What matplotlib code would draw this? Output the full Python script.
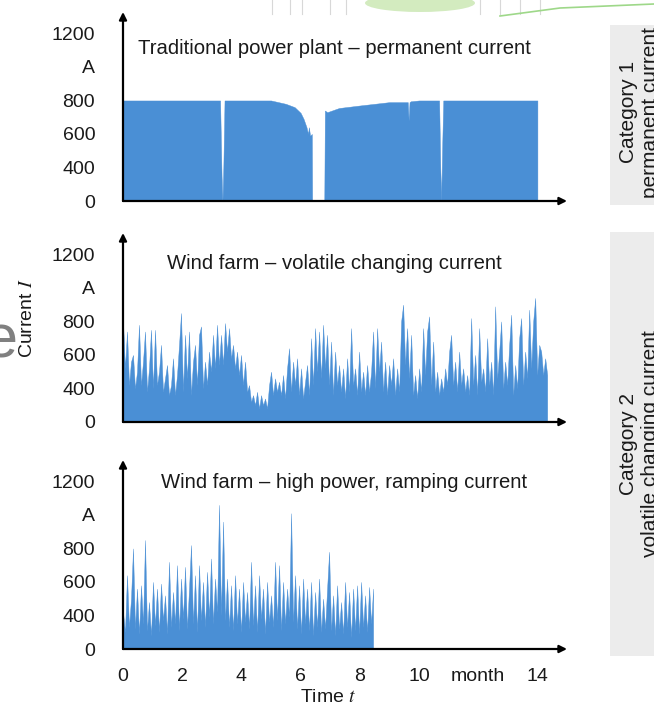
#Current time series of three plant types (category panels on the right)
import matplotlib.pyplot as plt
from matplotlib.patches import Rectangle, Ellipse
import numpy as np

plt.rcParams['font.family'] = ['Liberation Sans', 'DejaVu Sans']
plt.rcParams['mathtext.fontset'] = 'stix'

W, H = 654, 708
BLUE = '#4a8fd5'
TXT = '#1a1a1a'

# y axis of the original is not linear: labels are evenly spaced
Y_TICKS = [0, 400, 600, 800, 1000, 1200]
Y_LABELS = ['0', '400', '600', '800', 'A', '1200']
X_TICKS = [0, 2, 4, 6, 8, 10, 12, 14]
X_LABELS = ['0', '2', '4', '6', '8', '10', 'month', '14']

TITLES = ['Traditional power plant \u2013 permanent current',
          'Wind farm \u2013 volatile changing current',
          'Wind farm \u2013 high power, ramping current']

# traditional power plant (month, A)
t_top = [0, 3.28, 3.33, 3.36, 3.39, 3.43, 4.5, 5.0, 5.5, 5.8, 6.0, 6.1, 6.2,
         6.25, 6.28, 6.32, 6.38, 6.39, 6.80, 6.82, 6.9, 7.3, 8.0, 9.0, 9.62,
         9.65, 9.68, 9.72, 10.0, 10.68, 10.72, 10.75, 10.78, 10.82, 11.5, 13.0, 14.0]
i_top = [800, 800, 300, 0, 400, 800, 800, 800, 780, 760, 726, 690, 640,
         600, 640, 590, 600, 0, 0, 740, 730, 755, 770, 790, 790,
         680, 790, 795, 800, 800, 400, 0, 500, 800, 800, 800, 800]

# wind farm, volatile (A), one sample every ~2 days
i_mid = [800, 520, 740, 420, 560, 600, 400, 500, 780, 420, 560, 740, 360, 520,
         750, 400, 750, 420, 500, 660, 360, 460, 540, 320, 420, 580, 320, 480,
         660, 850, 360, 720, 460, 740, 320, 560, 660, 420, 720, 770, 400, 560,
         420, 620, 500, 720, 520, 780, 540, 720, 540, 790, 620, 760, 580, 660,
         520, 620, 480, 600, 420, 560, 360, 420, 240, 320, 200, 360, 160, 320,
         200, 280, 160, 420, 500, 320, 460, 360, 440, 320, 480, 280, 520, 640,
         360, 560, 420, 580, 320, 520, 280, 440, 540, 320, 700, 420, 760, 500,
         740, 460, 780, 520, 720, 420, 680, 320, 620, 420, 540, 360, 520, 280,
         580, 360, 760, 420, 520, 320, 620, 360, 500, 320, 540, 360, 500, 740,
         400, 760, 500, 680, 360, 560, 320, 540, 420, 580, 320, 520, 360, 800,
         900, 540, 760, 460, 720, 320, 480, 280, 520, 360, 760, 480, 740, 830,
         420, 680, 360, 500, 320, 460, 360, 520, 420, 620, 720, 420, 560, 360,
         620, 420, 520, 360, 480, 320, 820, 420, 600, 320, 760, 440, 520, 360,
         700, 420, 560, 320, 890, 460, 620, 800, 400, 560, 420, 660, 840, 320,
         540, 400, 700, 820, 420, 620, 460, 870, 520, 800, 940, 480, 660, 620,
         480, 580, 480]

# wind farm, high power (A), same sampling, stops after 8.5 months
i_bot = [420, 200, 640, 260, 500, 800, 240, 560, 180, 580, 300, 850, 220, 480,
         160, 600, 280, 560, 200, 590, 340, 520, 180, 720, 260, 540, 300, 700,
         220, 620, 360, 690, 240, 560, 820, 300, 640, 200, 700, 340, 600, 260,
         660, 380, 740, 300, 620, 420, 1060, 400, 960, 340, 620, 260, 580, 220,
         640, 300, 560, 200, 600, 320, 540, 240, 720, 280, 580, 200, 640, 360,
         560, 180, 600, 320, 520, 260, 720, 340, 700, 220, 600, 300, 560, 380,
         1010, 320, 640, 240, 580, 180, 620, 300, 560, 220, 600, 160, 540, 260,
         620, 200, 500, 240, 560, 780, 220, 520, 160, 580, 240, 480, 180, 600,
         260, 540, 140, 560, 220, 580, 180, 600, 260, 520, 200, 570, 300, 560]

MONTH_STEP = 0.0676
t_mid = np.arange(len(i_mid)) * MONTH_STEP
t_bot = np.arange(len(i_bot)) * MONTH_STEP

POS = [0, 1, 2, 3, 4, 5, 6]
AMP = [0, 400, 600, 800, 1000, 1200, 1400]


def fwd(v):
    return np.interp(v, AMP, POS)


def inv(p):
    return np.interp(p, POS, AMP)


Y_TOP = float(inv(5.64))

fig = plt.figure(figsize=(W / 100, H / 100), dpi=100)
fig.patch.set_facecolor('white')


def fx(px):
    return px / W


def fy(py):
    return 1 - py / H


# grey category boxes on the right
fig.add_artist(Rectangle((fx(610), fy(205)), fx(60), 180 / H, transform=fig.transFigure,
                         facecolor='#ececec', edgecolor='none'))
fig.add_artist(Rectangle((fx(610), fy(656)), fx(60), 424 / H, transform=fig.transFigure,
                         facecolor='#ececec', edgecolor='none'))
fig.text(fx(640), fy(112), 'Category 1\npermanent current', rotation=90, ha='center',
         va='center', multialignment='center', fontsize=15, color=TXT, linespacing=1.2)
fig.text(fx(640), fy(444), 'Category 2\nvolatile changing current', rotation=90,
         ha='center', va='center', multialignment='center', fontsize=15, color=TXT,
         linespacing=1.2)

# leftovers of the neighbouring figure
fig.add_artist(Ellipse((fx(420), fy(3)), fx(110), 18 / H, transform=fig.transFigure,
                       facecolor='#c8e6b0', edgecolor='none', alpha=0.8))
for px in [272, 290, 302, 330, 346, 480, 500, 520, 540]:
    fig.add_artist(plt.Line2D([fx(px), fx(px)], [fy(14), fy(0)], transform=fig.transFigure,
                              color='#d8d8d8', lw=0.8))
fig.add_artist(plt.Line2D([fx(500), fx(560), fx(654)], [fy(16), fy(8), fy(4)],
                          transform=fig.transFigure, color='#9ed889', lw=1.2))
fig.text(fx(17), fy(342), 'e', ha='right', va='center', fontsize=44, color='#808080')

panels = [(201, t_top, i_top), (422, t_mid, i_mid), (649, t_bot, i_bot)]
axes = []
for k, (base, tt, ii) in enumerate(panels):
    ax = fig.add_axes([fx(123), fy(base), fx(567) - fx(123), 189 / H])
    ax.set_yscale('function', functions=(fwd, inv))
    ax.fill_between(tt, ii, color=BLUE, lw=0.3, edgecolor=BLUE)
    ax.set_xlim(0, 15)
    ax.set_ylim(0, Y_TOP)
    for s in ax.spines.values():
        s.set_visible(False)
    ax.set_yticks(Y_TICKS, Y_LABELS)
    ax.tick_params(axis='y', length=0, pad=20, labelsize=14, labelcolor=TXT)
    ax.yaxis.set_minor_locator(plt.NullLocator())
    if k == 2:
        ax.set_xticks(X_TICKS, X_LABELS)
        ax.tick_params(axis='x', length=0, pad=14, labelsize=14, labelcolor=TXT)
    else:
        ax.set_xticks([])
    ax.set_facecolor('none')
    arrow = dict(arrowstyle='-|>', color='black', lw=1.6, mutation_scale=11,
                 shrinkA=0, shrinkB=0)
    ax.annotate('', xy=(15, 0), xytext=(0, 0), arrowprops=arrow, annotation_clip=False)
    ax.annotate('', xy=(0, Y_TOP), xytext=(0, 0), arrowprops=arrow, annotation_clip=False)
    axes.append(ax)

fig.text(fx(334), fy(48), TITLES[0], ha='center', va='center', fontsize=14.6, color=TXT)
fig.text(fx(334), fy(263), TITLES[1], ha='center', va='center', fontsize=14.6, color=TXT)
fig.text(fx(344), fy(482), TITLES[2], ha='center', va='center', fontsize=14.6, color=TXT)

fig.text(fx(28), fy(318), 'Current $I$', rotation=90, ha='center', va='center',
         fontsize=14, color=TXT)
fig.text(fx(328), fy(697), 'Time $t$', ha='center', va='center', fontsize=14, color=TXT)

plt.savefig('out.png', dpi=100)
